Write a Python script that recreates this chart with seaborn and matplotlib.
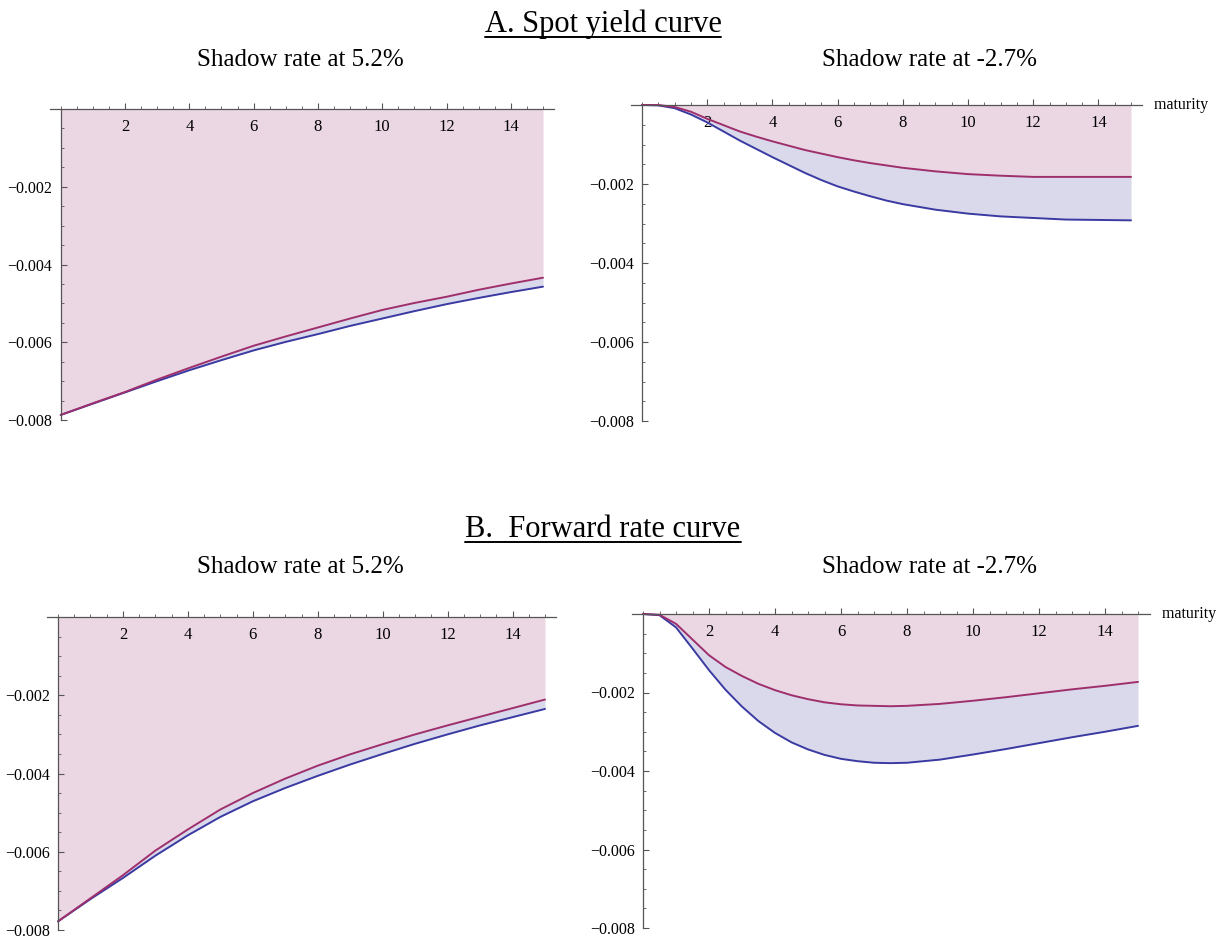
import numpy as np
import matplotlib
matplotlib.use("Agg")
import matplotlib.pyplot as plt
import matplotlib.transforms as mtransforms
from matplotlib.lines import Line2D
from matplotlib.ticker import MultipleLocator, FixedLocator, FixedFormatter
import seaborn as sns
import pandas as pd

sns.set_style("white")
plt.rcParams['font.family'] = ['Liberation Serif', 'DejaVu Serif']
plt.rcParams['xtick.bottom'] = True
plt.rcParams['ytick.left'] = True
plt.rcParams['axes.axisbelow'] = False
plt.rcParams['text.color'] = 'black'
plt.rcParams['xtick.labelcolor'] = 'black'
plt.rcParams['ytick.labelcolor'] = 'black'

# ---------------- data (values in units of 1e-3) ----------------
mat_a = [0, 1, 2, 3, 4, 5, 6, 7, 8, 9, 10, 11, 12, 13, 14, 15]
spot_high_upper = [-7.87, -7.57, -7.28, -6.96, -6.66, -6.37, -6.09, -5.85, -5.62, -5.39, -5.17, -4.99, -4.83, -4.65, -4.49, -4.34]
spot_high_lower = [-7.87, -7.58, -7.29, -7.00, -6.72, -6.46, -6.21, -5.99, -5.79, -5.58, -5.39, -5.20, -5.02, -4.86, -4.71, -4.57]
fwd_high_upper = [-7.78, -7.19, -6.60, -5.97, -5.43, -4.92, -4.50, -4.13, -3.80, -3.51, -3.25, -3.00, -2.77, -2.55, -2.33, -2.11]
fwd_high_lower = [-7.78, -7.21, -6.67, -6.10, -5.58, -5.11, -4.71, -4.37, -4.06, -3.77, -3.50, -3.24, -3.00, -2.77, -2.56, -2.35]

mat_b = [0, 0.5, 1, 1.5, 2, 2.5, 3, 3.5, 4, 4.5, 5, 5.5, 6, 6.5, 7, 7.5, 8, 9, 10, 11, 12, 13, 14, 15]
spot_low_upper = [0, -0.00, -0.05, -0.17, -0.35, -0.51, -0.67, -0.80, -0.92, -1.03, -1.14, -1.23, -1.32, -1.40, -1.47, -1.53, -1.59, -1.68, -1.75, -1.79, -1.82, -1.82, -1.82, -1.82]
spot_low_lower = [0, -0.01, -0.08, -0.24, -0.44, -0.67, -0.90, -1.11, -1.32, -1.52, -1.72, -1.90, -2.06, -2.19, -2.31, -2.42, -2.51, -2.65, -2.75, -2.82, -2.86, -2.90, -2.91, -2.92]
fwd_low_upper = [0, -0.02, -0.25, -0.65, -1.05, -1.35, -1.58, -1.78, -1.94, -2.07, -2.17, -2.25, -2.30, -2.33, -2.34, -2.35, -2.34, -2.29, -2.21, -2.12, -2.02, -1.92, -1.83, -1.73]
fwd_low_lower = [0, -0.03, -0.34, -0.88, -1.43, -1.93, -2.36, -2.73, -3.03, -3.27, -3.45, -3.59, -3.69, -3.75, -3.79, -3.80, -3.79, -3.71, -3.58, -3.44, -3.29, -3.14, -3.00, -2.85]

x_ticks = [2, 4, 6, 8, 10, 12, 14]
y_ticks = [-0.002, -0.004, -0.006, -0.008]
y_tick_labels = ["\u22120.002", "\u22120.004", "\u22120.006", "\u22120.008"]

section_titles = ["A. Spot yield curve", "B.  Forward rate curve"]
panel_titles = ["Shadow rate at 5.2%", "Shadow rate at -2.7%"]

PINK = "#ebd7e3"
LAV = "#d9d9eb"
RED = "#9e2f6c"
BLUE = "#3a3aa2"
AXC = "#555555"

W, H = 1224, 941
fig = plt.figure(figsize=(W / 100, H / 100), dpi=100)

XMIN, XMAX = -0.33, 15.35


def make_axes(x0, x15, y0, y8):
    unit = (x15 - x0) / 15.0
    left = x0 + XMIN * unit
    right = x15 + (XMAX - 15) * unit
    return fig.add_axes([left / W, 1 - y8 / H, (right - left) / W, (y8 - y0) / H])


panels = [
    (make_axes(60.7, 543, 109, 420), mat_a, spot_high_upper, spot_high_lower, False),
    (make_axes(642, 1131, 105, 421), mat_b, spot_low_upper, spot_low_lower, True),
    (make_axes(58, 545, 617, 930), mat_a, fwd_high_upper, fwd_high_lower, False),
    (make_axes(643, 1138, 614, 928), mat_b, fwd_low_upper, fwd_low_lower, True),
]

for ax, xs, up, lo, show_mat in panels:
    xs = np.array(xs, dtype=float)
    up = np.array(up) * 1e-3
    lo = np.array(lo) * 1e-3
    ax.fill_between(xs, 0, up, color=PINK, lw=0, zorder=1)
    ax.fill_between(xs, up, lo, color=LAV, lw=0, zorder=1)
    df = pd.DataFrame({"m": xs, "upper": up, "lower": lo})
    sns.lineplot(data=df, x="m", y="lower", ax=ax, color=BLUE, lw=1.4, zorder=3)
    sns.lineplot(data=df, x="m", y="upper", ax=ax, color=RED, lw=1.4, zorder=4)
    for ln in ax.get_lines():
        ln.set_clip_on(False)
    ax.set_axisbelow(False)
    ax.set_xlim(XMIN, XMAX)
    ax.set_ylim(-0.008, 0)
    ax.set_xlabel("")
    ax.set_ylabel("")
    ax.set_facecolor("none")
    for s in ["top", "right"]:
        ax.spines[s].set_visible(False)
    ax.spines["bottom"].set_position(("data", 0))
    ax.spines["left"].set_position(("data", 0))
    for s in ["bottom", "left"]:
        ax.spines[s].set_color(AXC)
        ax.spines[s].set_linewidth(0.9)
        ax.spines[s].set_zorder(5)
    ax.xaxis.set_major_locator(FixedLocator(x_ticks))
    ax.xaxis.set_minor_locator(MultipleLocator(0.5))
    ax.yaxis.set_major_locator(FixedLocator(y_ticks))
    ax.yaxis.set_major_formatter(FixedFormatter(y_tick_labels))
    ax.yaxis.set_minor_locator(MultipleLocator(0.0005))
    ax.tick_params(axis="x", which="major", bottom=True, direction="in", length=4, width=0.8,
                   color=AXC, labelsize=12, pad=7, labelcolor="black")
    ax.tick_params(axis="x", which="minor", bottom=True, direction="in", length=2.2, width=0.6,
                   color=AXC)
    ax.tick_params(axis="y", which="major", left=True, direction="in", length=4, width=0.8,
                   color=AXC, labelsize=11.5, pad=6, labelcolor="black")
    ax.tick_params(axis="y", which="minor", left=True, direction="in", length=2.2, width=0.6,
                   color=AXC)
    if show_mat:
        tr = mtransforms.blended_transform_factory(ax.transAxes, ax.transData)
        ax.text(1.0, 0, "   maturity", transform=tr, ha="left", va="center",
                fontsize=11.5, color="black")

# titles
t_a = fig.text(603 / W, 1 - 32 / H, section_titles[0], ha="center", va="baseline",
               fontsize=22, color="black")
t_b = fig.text(603 / W, 1 - 537 / H, section_titles[1], ha="center", va="baseline",
               fontsize=22, color="black")
for cx, base, txt in [(300, 66, panel_titles[0]), (929, 66, panel_titles[1]),
                      (300, 573, panel_titles[0]), (929, 573, panel_titles[1])]:
    fig.text(cx / W, 1 - base / H, txt, ha="center", va="baseline", fontsize=18, color="black")

fig.canvas.draw()
r = fig.canvas.get_renderer()
for t, base in [(t_a, 32), (t_b, 537)]:
    bb = t.get_window_extent(r)
    yl = 1 - (base + 5) / H
    fig.add_artist(Line2D([bb.x0 / W, bb.x1 / W], [yl, yl], transform=fig.transFigure,
                          color="black", lw=1.4))

fig.savefig("out.png", dpi=100)
